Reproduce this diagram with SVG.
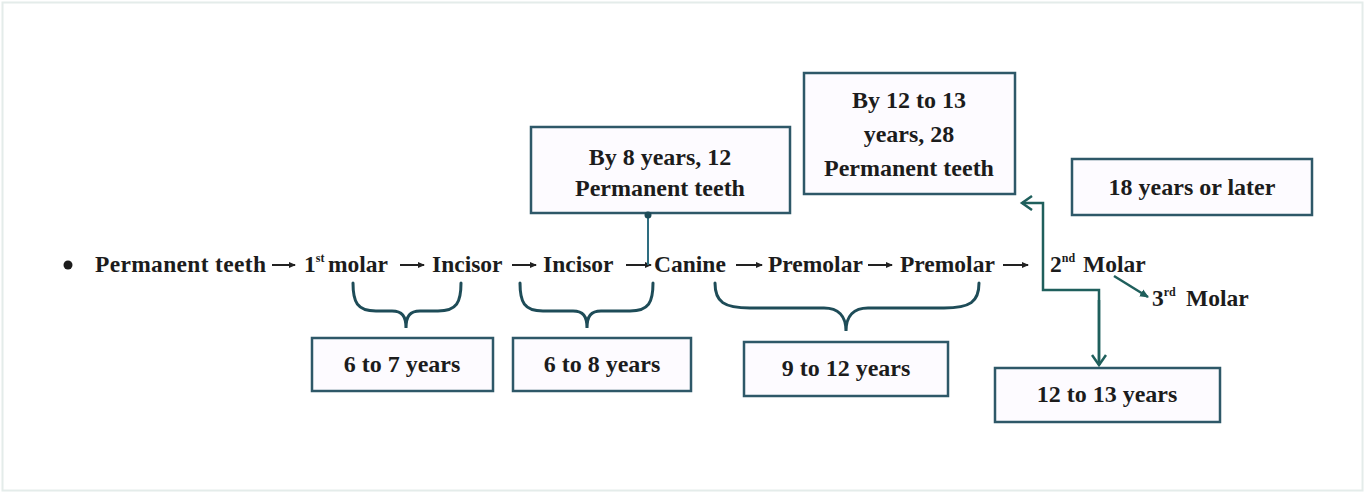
<svg xmlns="http://www.w3.org/2000/svg" width="1366" height="495" viewBox="0 0 1366 495">
<style>
.t{font-family:"Liberation Serif","Times New Roman",serif;font-weight:bold;font-size:23.5px;fill:#1c1c1c}
.b{font-size:24px}
.c{text-anchor:middle}
.sup{font-size:12px}
.box{fill:#fdfbff;stroke:#2e5868;stroke-width:2.5}
.br{fill:none;stroke:#1e4c58;stroke-width:3;stroke-linecap:round}
.ar{stroke:#222;stroke-width:2;fill:none}
.cn{stroke:#1f5f5c;stroke-width:2.5;fill:none}
</style>
<defs>
<marker id="dot" markerWidth="8" markerHeight="8" refX="6" refY="4" orient="auto" markerUnits="userSpaceOnUse">
<path d="M0,1 L7,4 L0,7 Z" fill="#222"/>
</marker>
<marker id="open" markerWidth="16" markerHeight="16" refX="13" refY="8" orient="auto" markerUnits="userSpaceOnUse">
<path d="M3,1 L13,8 L3,15" fill="none" stroke="#1f5f5c" stroke-width="2.5"/>
</marker>
<marker id="sm" markerWidth="10" markerHeight="10" refX="8" refY="5" orient="auto" markerUnits="userSpaceOnUse">
<path d="M0,1 L9,5 L0,9 Z" fill="#1f5f5c"/>
</marker>
</defs>
<rect x="0" y="0" width="1366" height="495" fill="#ffffff"/>
<rect x="2.5" y="2.5" width="1360" height="488" fill="none" stroke="#e4ecea" stroke-width="2"/>

<g id="flow">
<circle cx="68" cy="265" r="4.5" fill="#1c1c1c"/>
<text class="t" x="95" y="272" textLength="171" lengthAdjust="spacing">Permanent teeth</text>
<text class="t" x="304" y="272">1<tspan class="sup" dy="-10">st</tspan></text>
<text class="t" x="328" y="272">molar</text>
<text class="t" x="432" y="272">Incisor</text>
<text class="t" x="543" y="272">Incisor</text>
<text class="t" x="654" y="272">Canine</text>
<text class="t" x="768" y="272">Premolar</text>
<text class="t" x="900" y="272">Premolar</text>
<text class="t" x="1050" y="272">2<tspan class="sup" dy="-10">nd</tspan></text>
<text class="t" x="1083" y="272">Molar</text>
<text class="t" x="1152" y="306">3<tspan class="sup" dy="-10">rd</tspan></text>
<text class="t" x="1186" y="306">Molar</text>
</g>

<g id="box-by8">
<rect class="box" x="531" y="127" width="259" height="86"/>
<text class="t b c" x="660" y="165">By 8 years, 12</text>
<text class="t b c" x="660" y="196">Permanent teeth</text>
</g>

<g id="box-by12">
<rect class="box" x="804" y="73" width="211" height="121"/>
<text class="t b c" x="909" y="108">By 12 to 13</text>
<text class="t b c" x="909" y="142">years, 28</text>
<text class="t b c" x="909" y="176">Permanent teeth</text>
</g>

<g id="box-18">
<rect class="box" x="1072" y="159" width="240" height="56"/>
<text class="t b c" x="1192" y="195">18 years or later</text>
</g>

<g id="box-6to7">
<rect class="box" x="312" y="338" width="181" height="53"/>
<text class="t b c" x="402" y="372">6 to 7 years</text>
</g>

<g id="box-6to8">
<rect class="box" x="513" y="338" width="178" height="53"/>
<text class="t b c" x="602" y="372">6 to 8 years</text>
</g>

<g id="box-9to12">
<rect class="box" x="744" y="342" width="204" height="54"/>
<text class="t b c" x="846" y="376">9 to 12 years</text>
</g>

<g id="box-12to13">
<rect class="box" x="995" y="368" width="225" height="54"/>
<text class="t b c" x="1107" y="402">12 to 13 years</text>
</g>

<g id="connectors">
<line class="ar" x1="272" y1="265" x2="295" y2="265" marker-end="url(#dot)"/>
<line class="ar" x1="400" y1="265" x2="424" y2="265" marker-end="url(#dot)"/>
<line class="ar" x1="512" y1="265" x2="536" y2="265" marker-end="url(#dot)"/>
<line class="ar" x1="626" y1="265" x2="651" y2="265" marker-end="url(#dot)"/>
<line class="ar" x1="736" y1="265" x2="762" y2="265" marker-end="url(#dot)"/>
<line class="ar" x1="868" y1="265" x2="892" y2="265" marker-end="url(#dot)"/>
<line class="ar" x1="1003" y1="265" x2="1028" y2="265" marker-end="url(#dot)"/>
<line x1="648" y1="214" x2="648" y2="265" stroke="#2e6d80" stroke-width="2"/>
<circle cx="648" cy="215" r="3.5" fill="#1e4c58"/>
<path class="br" d="M353,283 C353,302 357,311 376,311 L392,311 C402,311 406,316 406,328 C406,316 410,311 420,311 L438,311 C457,311 461,302 461,283"/>
<path class="br" d="M520,283 C520,302 524,311 543,311 L573,311 C583,311 587,316 587,328 C587,316 591,311 601,311 L630,311 C649,311 653,302 653,283"/>
<path class="br" d="M715,283 C715,302 724,308 750,308 L824,308 C838,308 846,316 846,331 C846,316 854,308 868,308 L944,308 C970,308 979,302 979,283"/>
<polyline class="cn" points="1099,365 1099,290 1043,290 1043,203 1022,203" marker-end="url(#open)"/>
<path d="M1099,300 L1099,365" class="cn" marker-end="url(#open)"/>
<line class="cn" x1="1114" y1="276" x2="1148" y2="297" marker-end="url(#sm)"/>
</g>
</svg>
